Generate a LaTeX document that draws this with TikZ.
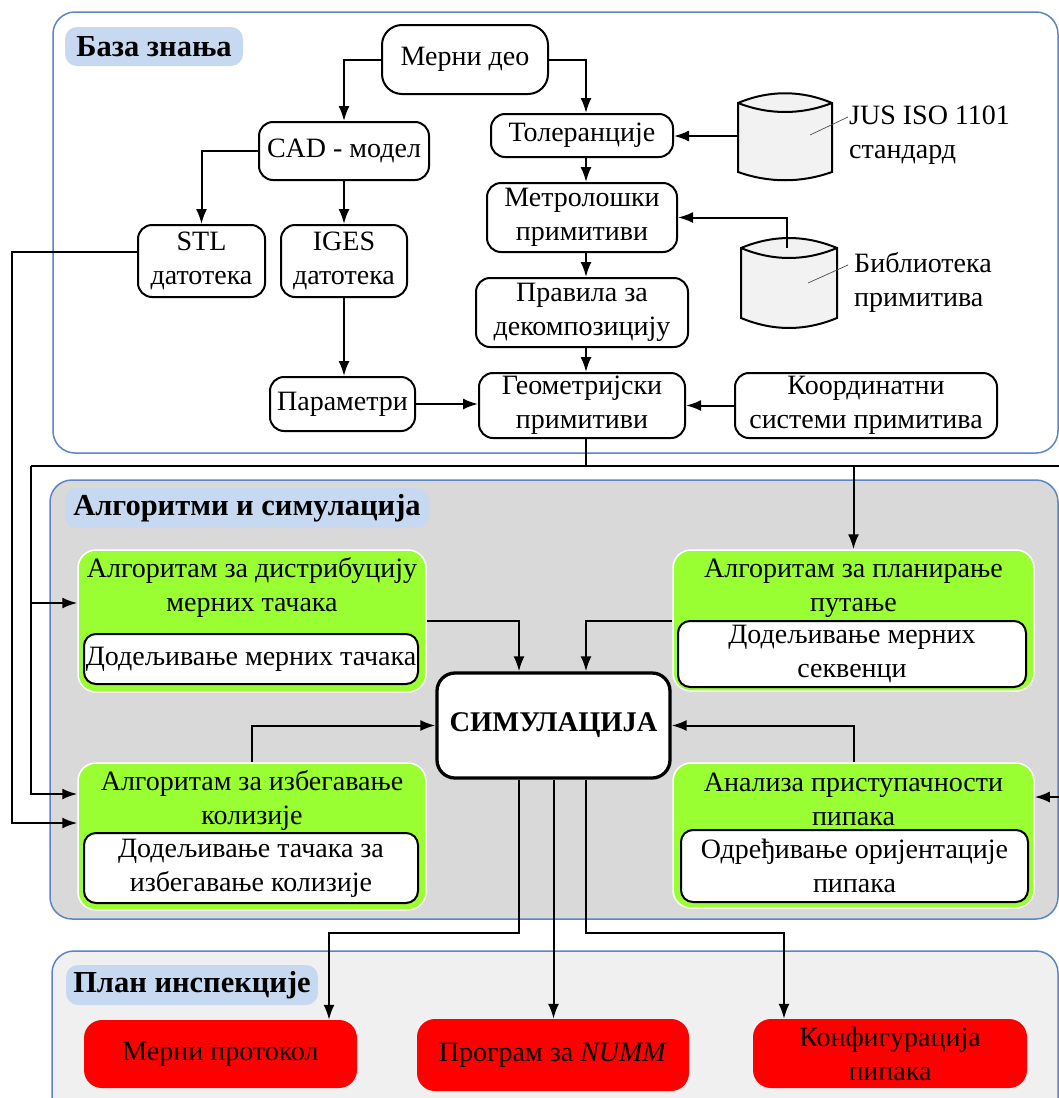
\documentclass[tikz,border=0pt]{standalone}
\usepackage{fontspec}
\setmainfont{Liberation Serif}
\usetikzlibrary{arrows.meta,calc}

\definecolor{panelblue}{HTML}{5B85C5}
\definecolor{tagblue}{HTML}{C6D9F0}
\definecolor{simgray}{HTML}{D9D9D9}
\definecolor{planbg}{HTML}{F0F0F0}
\definecolor{algogreen}{HTML}{99FF33}
\definecolor{dbgray}{HTML}{F2F2F2}

\newcommand\nf{\fontsize{28}{34}\selectfont}
\newcommand\hf{\fontsize{30.5}{36}\selectfont}
\newcommand\simfont{\fontsize{28.5}{34}\selectfont}
\newcommand\tp{\rule{0pt}{20pt}}

\tikzset{
  panel/.style={draw=panelblue, line width=1.5pt, rounded corners=22pt},
  tag/.style={fill=tagblue, rounded corners=12pt, font=\hf\bfseries, inner sep=0pt},
  rbox/.style={draw, line width=2pt, fill=white, rounded corners=14pt, align=center, font=\nf, inner sep=0pt},
  algbox/.style={fill=algogreen, draw=white, line width=1.5pt, rounded corners=18pt, inner sep=0pt},
  subbox/.style={draw, line width=2pt, fill=white, rounded corners=12pt, align=center, font=\nf, inner sep=0pt},
  ttl/.style={align=center, font=\nf, inner sep=0pt, anchor=north},
  outbox/.style={fill=red, rounded corners=18pt, align=center, font=\nf, inner sep=0pt},
  simbox/.style={draw, line width=3.3pt, fill=white, rounded corners=18pt, font=\simfont\bfseries, inner sep=0pt},
  db/.style={draw, line width=2pt, fill=dbgray},
  lead/.style={draw=black!70, line width=0.7pt},
  wire/.style={line width=2pt},
  conn/.style={wire, -{Latex[length=15pt,width=11pt]}},
  lbl/.style={align=left, font=\nf, inner sep=0pt, anchor=north west},
}

\begin{document}
\begin{tikzpicture}[x=1pt,y=-1pt]
\clip (0,0) rectangle (1059,1098);

% section panels
\path[panel, fill=white] (53,12) rectangle (1058,453);
\path[panel, fill=simgray] (50,480) rectangle (1058,919);
\path[panel, fill=planbg] (52,951) rectangle (1058,1120);

\node[tag, minimum width=178pt, minimum height=39pt] (tagKB) at (154,46.5) {База знања};
\node[tag, minimum width=364pt, minimum height=40pt] (tagAS) at (247,508) {Алгоритми и симулација};
\node[tag, minimum width=252pt, minimum height=40pt] (tagIP) at (192,985) {План инспекције};

% knowledge base
\node[rbox, minimum width=166pt, minimum height=69pt, rounded corners=20pt] (merni) at (465,59.5) {Мерни део};
\node[rbox, minimum width=170pt, minimum height=58pt] (cad) at (344,151) {CAD - модел};
\node[rbox, minimum width=127pt, minimum height=72pt] (stl) at (201.5,261) {STL\\датотека};
\node[rbox, minimum width=126pt, minimum height=72pt] (iges) at (344,261) {IGES\\датотека};
\node[rbox, minimum width=145pt, minimum height=54pt] (param) at (342.5,404) {Параметри};
\node[rbox, minimum width=182pt, minimum height=43pt] (tol) at (582,135.5) {Толеранције};
\node[rbox, minimum width=190pt, minimum height=69pt] (metr) at (582,217.5) {Метролошки\\примитиви};
\node[rbox, minimum width=212pt, minimum height=69pt] (prav) at (582,312.5) {Правила за\\декомпозицију};
\node[rbox, minimum width=206pt, minimum height=65pt] (geom) at (582,405.5) {Геометријски\\примитиви};
\node[rbox, minimum width=262pt, minimum height=65pt] (koord) at (866,405.5) {Координатни\\системи примитива};

% databases
\path[db] (738,103) .. controls (769,90) and (801,90) .. (832,103) -- (832,172)
  .. controls (801,183) and (769,183) .. (738,172) -- cycle;
\draw[wire] (738,103) .. controls (769,115) and (801,115) .. (832,103);
\path[db] (741,248) .. controls (773,234.7) and (805,234.7) .. (837,248) -- (837,318)
  .. controls (805,331.3) and (773,331.3) .. (741,318) -- cycle;
\draw[wire] (741,248) .. controls (773,261.3) and (805,261.3) .. (837,248);
\coordinate (stdDB) at (738,136);
\coordinate (libDB) at (787,248);
\draw[lead] (810,135) -- (848,117);
\draw[lead] (808,283) -- (848,265);
\node[lbl] (stdL) at (849,104) {\tp JUS ISO 1101\\стандард};
\node[lbl] (libL) at (854,252) {\tp Библиотека\\примитива};

% algorithms and simulation
\node[algbox, minimum width=348pt, minimum height=142pt] (distr) at (252,621) {};
\node[algbox, minimum width=361pt, minimum height=141pt] (plan) at (853.5,620.5) {};
\node[algbox, minimum width=348pt, minimum height=147pt] (avoid) at (252,836.5) {};
\node[algbox, minimum width=361pt, minimum height=145pt] (anal) at (853.5,835.5) {};

\node[ttl] (distrT) at (252,557) {\tp Алгоритам за дистрибуцију\\мерних тачака};
\node[ttl] (planT) at (853.5,557) {\tp Алгоритам за планирање\\путање};
\node[ttl] (avoidT) at (252,770) {\tp Алгоритам за избегавање\\колизије};
\node[ttl] (analT) at (853.5,771) {\tp Анализа приступачности\\пипака};

\node[subbox, minimum width=334pt, minimum height=50pt] (distrS) at (251,659) {Додељивање мерних тачака};
\node[subbox, minimum width=348pt, minimum height=66pt] (planS) at (852,654) {Додељивање мерних\\секвенци};
\node[subbox, minimum width=334pt, minimum height=70pt] (avoidS) at (251,868) {Додељивање тачака за\\избегавање колизије};
\node[subbox, minimum width=347pt, minimum height=72pt] (analS) at (854.5,866) {Одређивање оријентације\\пипака};

\node[simbox, minimum width=233pt, minimum height=105pt] (sim) at (553.5,725.5) {СИМУЛАЦИЈА};

% inspection plan
\node[outbox, minimum width=273pt, minimum height=68pt] (r1) at (220.5,1054) {Мерни протокол};
\node[outbox, minimum width=272pt, minimum height=72pt] (r2) at (553,1055) {Програм за \textit{NUMM}};
\node[outbox, minimum width=274pt, minimum height=69pt] (r3) at (890,1053.5) {Конфигурација\\пипака};

% routing helpers
\coordinate (spine) at (586,0);
\coordinate (lane) at (519,0);
\coordinate (drop) at (0,933);
\coordinate (farL) at (12,0);
\coordinate (busL) at (31,466);
\coordinate (busR) at (1064,466);
\coordinate (stlOut) at ($(stl.west)+(0,-9)$);
\coordinate (distrIn) at ($(distr.west)+(0,-18)$);
\coordinate (avIn1) at ($(avoid.west)+(0,-42.5)$);
\coordinate (avIn2) at ($(avoid.west)+(0,-13.5)$);
\coordinate (analIn) at ($(anal.east)+(0,-38.5)$);

% knowledge base connectors
\draw[conn] (merni.west) -| (cad.north);
\draw[conn] (merni.east) -| (tol.north -| spine);
\draw[conn] (cad.west) -| (stl.north);
\draw[conn] (cad.south) -- (cad.south |- iges.north);
\draw[conn] (iges.south) -- (iges.south |- param.north);
\draw[conn] (param.east) -- (param.east -| geom.west);
\draw[conn] (tol.south -| spine) -- (metr.north -| spine);
\draw[conn] (metr.south -| spine) -- (prav.north -| spine);
\draw[conn] (prav.south -| spine) -- (geom.north -| spine);
\draw[conn] (stdDB) -- (stdDB -| tol.east);
\draw[conn] (libDB) |- (metr.east);
\draw[conn] (koord.west) -- (geom.east);

% distribution to algorithms
\draw[conn] (stlOut) -| (farL |- avIn2) -- (avIn2);
\draw[wire] (geom.south -| spine) -- (spine |- busL);
\draw[wire] (busL) -- (busR);
\draw[conn] (busL) |- (distrIn);
\draw[conn] (busL) |- (avIn1);
\draw[conn] (busL -| plan.north) -- (plan.north);
\draw[conn] (busR) |- (analIn);

% into simulation
\draw[conn] (distr.east) -| (sim.north -| lane);
\draw[conn] (plan.west) -| (sim.north -| spine);
\draw[conn] (avoid.north) |- (sim.west);
\draw[conn] (anal.north) |- (sim.east);

% out of simulation
\draw[conn] (sim.south -| lane) -- (lane |- drop) -| ($(r1.north)+(108.5,0)$);
\draw[conn] (sim.south) -- (sim.south |- r2.north);
\draw[conn] (sim.south -| spine) -- (spine |- drop) -| ($(r3.north)+(-106,0)$);
\end{tikzpicture}
\end{document}
